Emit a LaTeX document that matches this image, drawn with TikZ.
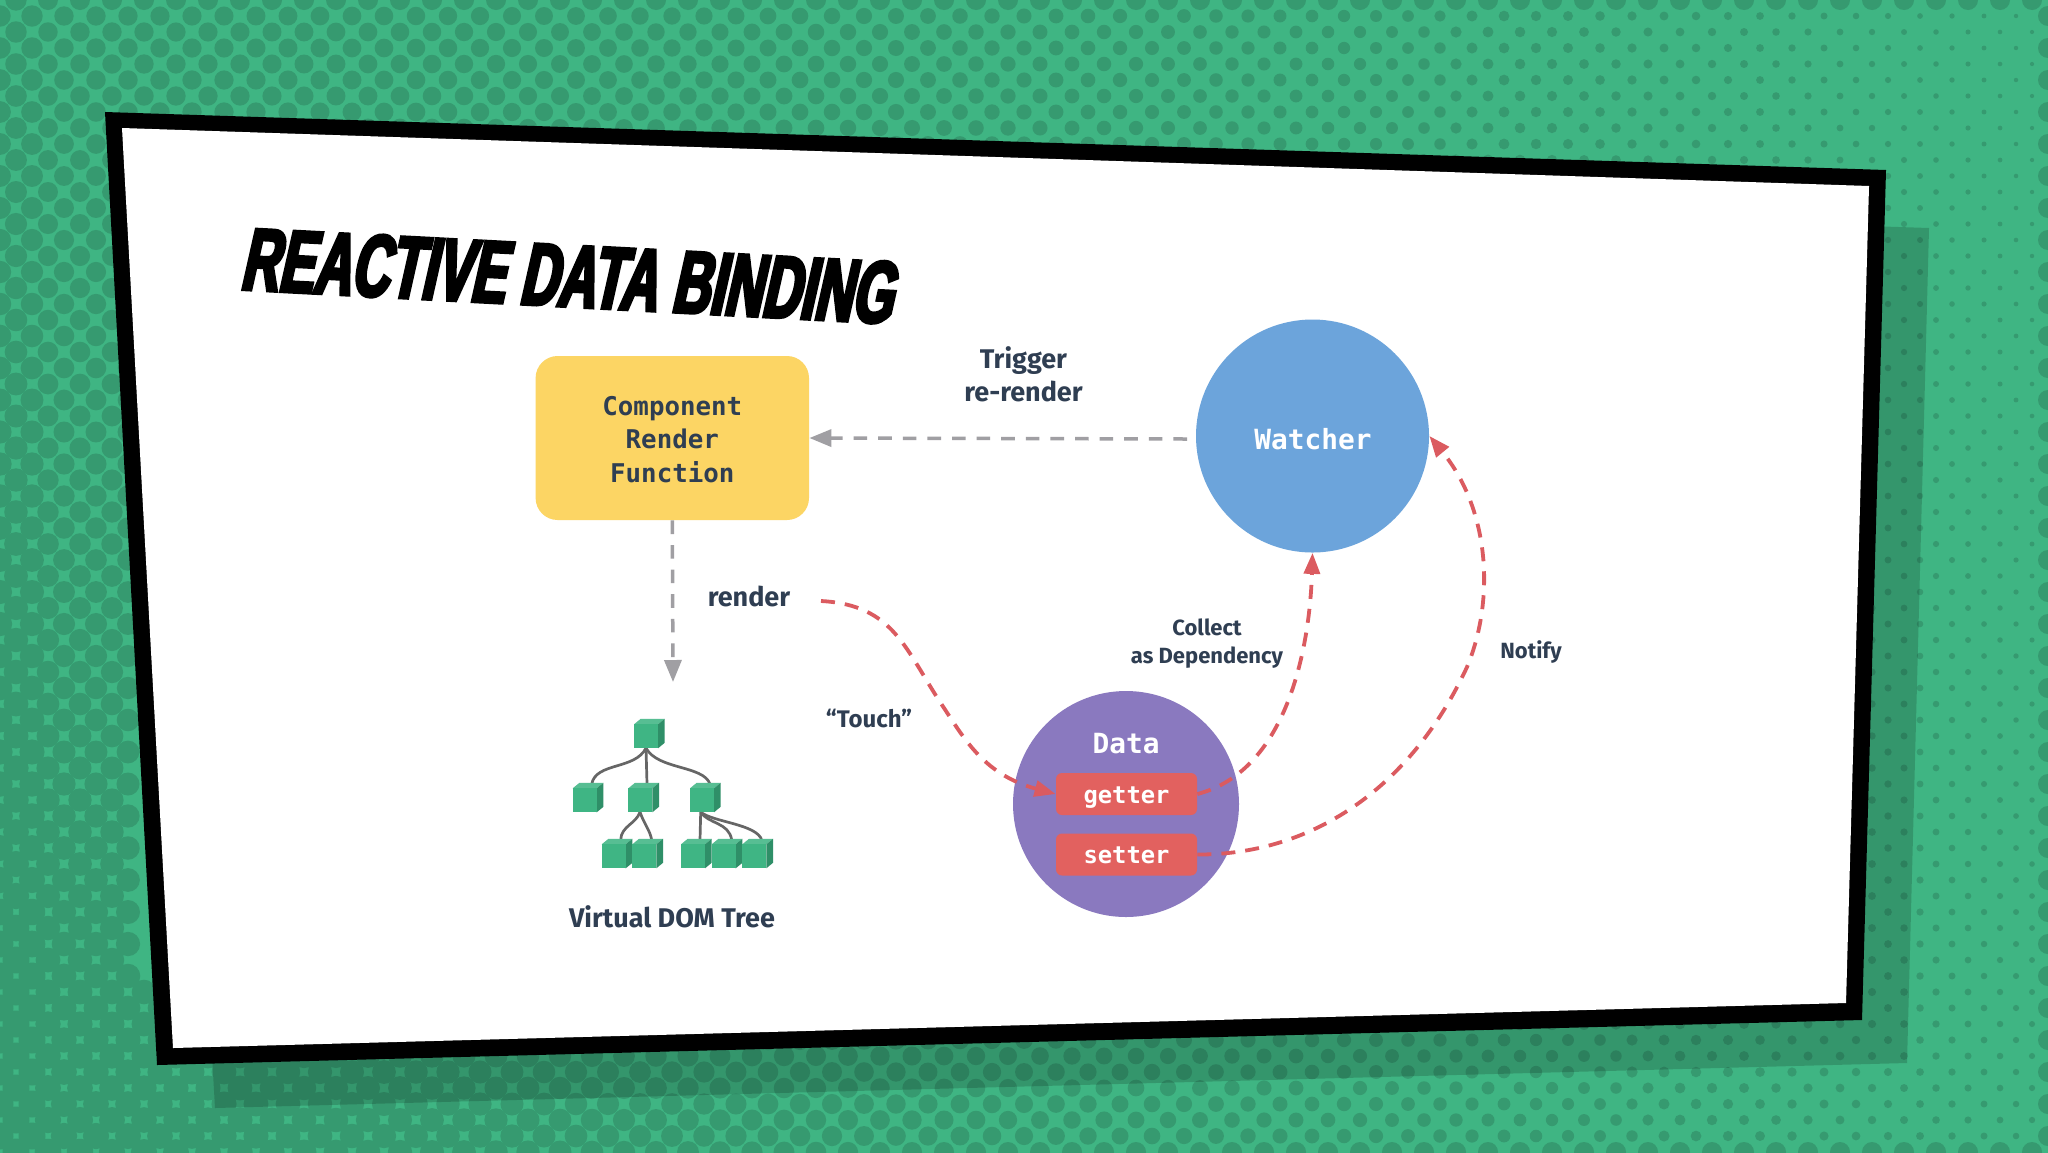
\documentclass[tikz,border=0pt]{standalone}
\usepackage{fontspec}
\usetikzlibrary{arrows.meta}
\setmainfont{Fira Sans}
\newfontfamily\codefont{DejaVu Sans Mono}
\newfontfamily\titlefont[FakeSlant=.17,FakeStretch=.595,FakeBold=4]{Liberation Sans}
\definecolor{bgl}{HTML}{3FB583}
\definecolor{bgd}{HTML}{369A70}
\definecolor{ink}{HTML}{2F3E52}
\definecolor{ylw}{HTML}{FCD564}
\definecolor{blu}{HTML}{6CA4DB}
\definecolor{pur}{HTML}{8A79BF}
\definecolor{rdd}{HTML}{E2615F}
\definecolor{rdl}{HTML}{DB5B60}
\definecolor{gry}{HTML}{A09FA3}
\definecolor{cf}{HTML}{3FB584}
\definecolor{ct}{HTML}{57BE93}
\definecolor{cs}{HTML}{2F8F68}
\definecolor{lnk}{HTML}{666666}
\tikzset{
  label text/.style={font=\bfseries\fontsize{13.5}{16.5}\selectfont,text=ink,align=center,inner sep=0pt},
  small text/.style={font=\bfseries\fontsize{11}{14.4}\selectfont,text=ink,align=center,inner sep=0pt},
  code white/.style={font=\codefont\bfseries\fontsize{13.9}{16}\selectfont,text=white,inner sep=0pt},
  chip/.style={fill=rdd,rounded corners=3pt,minimum width=70.5pt,minimum height=21pt,inner sep=0pt,
    text height=11pt,text depth=2pt,
    font=\codefont\bfseries\fontsize{11.9}{14}\selectfont,text=white},
  grey link/.style={draw=gry,line width=1.75pt,dash pattern=on 6.8pt off 5.5pt,-{Triangle[length=11pt,width=8.5pt]}},
  red link/.style={draw=rdl,line width=1.9pt,dash pattern=on 7pt off 5pt,-{Triangle[length=10.5pt,width=8pt]}},
  tree link/.style={draw=lnk,line width=1.35pt},
}
\newcommand{\treecube}[3]{%
  \fill[ct] (#2,#3-24) -- ++(6.7,-5.5) -- ++(24,0) -- ++(-6.7,5.5) -- cycle;
  \fill[cs] (#2+24,#3) -- ++(6.7,-5.5) -- ++(0,-24) -- ++(-6.7,5.5) -- cycle;
  \fill[cf] (#2,#3) rectangle ++(24,-24);
}
\begin{document}
\begin{tikzpicture}[x=0.5pt,y=-0.5pt]
\useasboundingbox (0,0) rectangle (2048,1152);
\begin{scope}
\clip (-4,-4) rectangle (2052,1156);
\fill[bgl] (-4,-4) rectangle (2052,1156);
\foreach \k in {0,...,72}{
  \foreach \n in {0,...,64}{
    \pgfmathsetmacro\px{32*\n+(mod(\k,2)==0?16:0)}
    \pgfmathsetmacro\py{16*\k}
    \pgfmathparse{(\px>140 && \px<1835 && \py>200 && \py<990)?1:0}
    \ifnum\pgfmathresult=0
      \pgfmathsetmacro\uu{\px/1000}
      \pgfmathsetmacro\vv{\py/1000}
      \pgfmathsetmacro\rr{9.7-0.5*\uu-1.6*\uu*\uu+0.85*(1.5*\vv+2*\vv*\vv)*max(1-\uu/1.8,0.3)+(\uu<0.04?1:0)}
      \pgfmathsetmacro\rr{min(\rr,13.5)}
      \pgfmathsetmacro\rr{(\k==0||\k==72)?max(\rr,10):\rr}
      \pgfmathsetmacro\rr{(\px>2040)?10:\rr}
      \fill[bgd] (\px,\py) circle[radius=\rr];
    \fi
  }
}
\end{scope}
% shadow and frame
\fill[black,opacity=.17] (162,170) -- (1929,228) -- (1907,1063) -- (215,1108) -- cycle;
\fill[black] (105,112) -- (1886,170) -- (1862,1020) -- (157,1065) -- cycle;
\fill[white] (122,128) -- (1869,186) -- (1846,1003) -- (173,1048) -- cycle;
% title
\node[rotate=-3,inner sep=0pt] (title) at (567,276) {\titlefont\bfseries\fontsize{44}{44}\selectfont REACTIVE DATA BINDING};
% main nodes
\node[fill=ylw,rounded corners=11pt,minimum width=136.7pt,minimum height=82pt,inner sep=0pt] (box) at (672.3,438) {};
\node[font=\codefont\bfseries\fontsize{12.9}{16.8}\selectfont,text=ink,align=center,inner sep=0pt] (boxlabel) at (672.3,439.5) {Component\\Render\\Function};
\node[circle,fill=blu,minimum size=116.5pt,inner sep=0pt] (watcher) at (1312.5,436) {};
\node[code white] (watcherlabel) at (1313,439) {Watcher};
\node[circle,fill=pur,minimum size=113pt,inner sep=0pt] (data) at (1126,804) {};
\node[code white] (datalabel) at (1126,744) {Data};
\node[chip] (getter) at (1126.5,794) {getter};
\node[chip] (setter) at (1126.5,854.5) {setter};
% labels
\node[label text] (trigger) at (1023.5,374) {Trigger\\re-render};
\node[label text] (renderl) at (749,596) {render};
\node[small text,font=\bfseries\fontsize{12}{14}\selectfont] (touch) at (869,718) {“Touch”};
\node[small text] (collect) at (1207,643.5) {Collect\\as Dependency};
\node[small text] (notify) at (1531,652) {Notify};
\node[label text] (vdom) at (672,917) {Virtual DOM Tree};
% connectors
\coordinate (trigstart) at (1187,439);
\coordinate (treetip) at (673,682);
\coordinate (touchstart) at (821,601);
\draw[grey link] (trigstart) -- (box.east);
\draw[grey link] (box.south) -- (treetip);
\draw[red link] (touchstart) .. controls (895,605) and (905,650) .. (944,708) .. controls (965,740) and (985,775) .. (getter.west);
\draw[red link] (getter.east) .. controls (1290,770) and (1310,640) .. (watcher.south);
\draw[red link] (setter.east) .. controls (1310,855) and (1410,790) .. (1467,667) .. controls (1495,600) and (1490,510) .. (watcher.east);
% virtual DOM tree
\coordinate (rootb) at (646,748);
\coordinate (lt) at (591.7,784);
\coordinate (mt) at (647,784);
\coordinate (rt) at (710,784);
\coordinate (mb) at (640,812);
\coordinate (rb) at (700.7,812);
\coordinate (at) at (620.7,840);
\coordinate (bt) at (651.7,840);
\coordinate (ct) at (700,840);
\coordinate (dt) at (731.7,840);
\coordinate (et) at (761.7,840);
\draw[tree link] (rootb) .. controls (635,770) and (596,762) .. (lt);
\draw[tree link] (rootb) -- (mt);
\draw[tree link] (rootb) .. controls (658,770) and (703,765) .. (rt);
\draw[tree link] (mb) .. controls (636,824) and (621,826) .. (at);
\draw[tree link] (mb) .. controls (644,824) and (650,830) .. (bt);
\draw[tree link] (rb) -- (ct);
\draw[tree link] (rb) .. controls (708,824) and (729,822) .. (dt);
\draw[tree link] (rb) .. controls (712,822) and (757,824) .. (et);
\treecube{root}{634}{748.3}
\treecube{l}{572.7}{812.3}
\treecube{m}{628.3}{812.3}
\treecube{r}{690}{812.3}
\treecube{a}{601.7}{868.3}
\treecube{b}{632.3}{868.3}
\treecube{c}{681}{868.3}
\treecube{d}{711.7}{868.3}
\treecube{e}{742.3}{868.3}
\end{tikzpicture}
\end{document}
